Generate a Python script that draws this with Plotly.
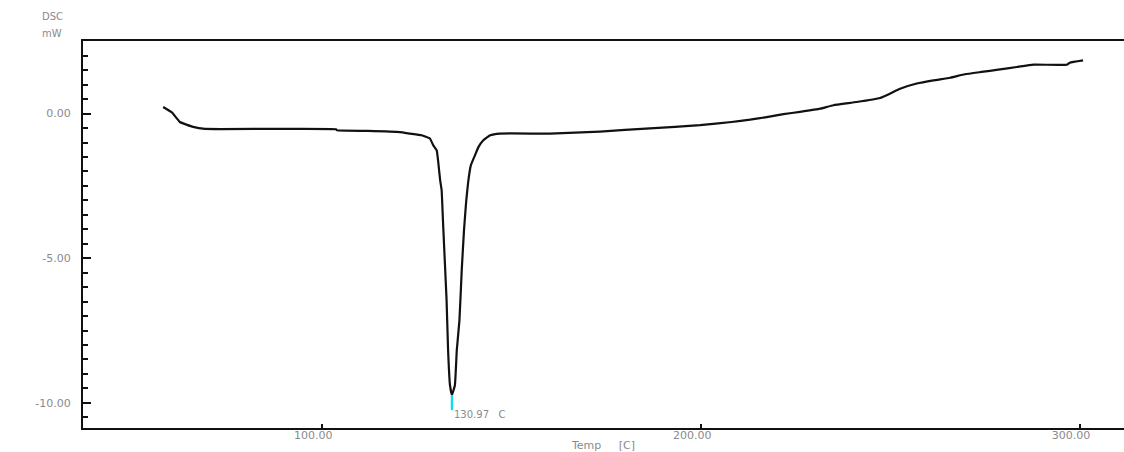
import plotly.graph_objects as go

# DSC curve (temperature in C, heat flow in mW)
temp_c = [58.0, 60.3, 62.4, 65.9, 69.0, 85.0, 103.6, 103.9, 112.0, 120.5, 123.1, 126.2,
          128.4, 129.3, 130.2, 130.6, 131.1, 131.5, 131.9, 132.8, 133.2, 133.7, 134.2,
          135.0, 135.5, 136.2, 136.8, 137.4, 138.0, 138.5, 139.2, 140.3, 141.2, 142.5,
          144.3, 146.9, 160.1, 173.3, 186.5, 199.7, 208.0, 212.9, 217.3, 221.7, 226.1,
          231.4, 234.9, 241.0, 247.2, 249.8, 252.5, 256.9, 261.3, 265.7, 269.6, 274.0,
          278.4, 283.3, 287.7, 296.5, 297.3, 300.8]
dsc_mw = [0.23, 0.04, -0.29, -0.46, -0.53, -0.53, -0.54, -0.58, -0.60, -0.64, -0.69, -0.75,
          -0.86, -1.10, -1.27, -1.67, -2.30, -2.65, -3.86, -6.45, -8.18, -9.39, -9.73,
          -9.39, -8.18, -7.14, -5.42, -4.03, -3.00, -2.37, -1.79, -1.44, -1.16, -0.92,
          -0.75, -0.69, -0.69, -0.62, -0.51, -0.40, -0.29, -0.21, -0.12, -0.02, 0.06,
          0.17, 0.29, 0.40, 0.54, 0.69, 0.86, 1.04, 1.15, 1.24, 1.36, 1.44,
          1.52, 1.61, 1.69, 1.69, 1.76, 1.84]

# Peak marker
peak_temp = [134.2, 134.2]
peak_mw = [-9.73, -10.25]
peak_label = "130.97   C"

x_ticks = [100, 200, 300]
x_tick_text = ["100.00", "200.00", "300.00"]
y_ticks = [0, -5, -10]
y_tick_text = ["0.00", "-5.00", "-10.00"]

gray = "#8a8a8a"
font_family = "DejaVu Sans, Liberation Sans, Arial, sans-serif"

fig = go.Figure()
fig.add_trace(go.Scatter(x=temp_c, y=dsc_mw, mode="lines",
                         line=dict(color="#111111", width=2.2, shape="spline", smoothing=0.3),
                         showlegend=False, hoverinfo="skip"))
fig.add_trace(go.Scatter(x=peak_temp, y=peak_mw, mode="lines",
                         line=dict(color="#00e0f0", width=2.2),
                         showlegend=False, hoverinfo="skip"))

fig.update_layout(
    width=1124, height=452,
    margin=dict(l=83, r=0, t=41, b=24),
    paper_bgcolor="white", plot_bgcolor="white",
    font=dict(family=font_family, color=gray, size=11),
    xaxis=dict(range=[36.84, 311.6], showgrid=False, zeroline=False, automargin=False,
               showline=True, linecolor="#111111", linewidth=2, mirror=True,
               ticks="inside", ticklen=4, tickwidth=2, tickcolor="#111111",
               tickvals=x_ticks, ticktext=x_tick_text,
               tickfont=dict(size=11, color=gray, family=font_family),
               ticklabelstandoff=-4, ticklabelshift=-9,
               title=dict(text="Temp     [C]", standoff=6,
                          font=dict(size=11, color=gray, family=font_family))),
    yaxis=dict(range=[-10.87, 2.51], showgrid=False, zeroline=False, automargin=False,
               showline=True, linecolor="#111111", linewidth=2,
               ticks="inside", ticklen=8, tickwidth=1.5, tickcolor="#111111",
               tickvals=y_ticks, ticktext=y_tick_text,
               tickfont=dict(size=11, color=gray, family=font_family),
               ticklabelstandoff=8,
               minor=dict(ticks="inside", ticklen=5, tickwidth=1.5, tickcolor="#111111",
                          dtick=0.5, tick0=0, showgrid=False)),
)

fig.add_annotation(x=peak_temp[0], y=-10.42, xref="x", yref="y", text=peak_label,
                   showarrow=False, xanchor="left", yanchor="middle",
                   font=dict(size=10, color=gray, family=font_family))
fig.add_annotation(x=-43 / 1041, y=1 + 24 / 387, xref="paper", yref="paper", text="DSC",
                   showarrow=False, xanchor="left", yanchor="middle",
                   font=dict(size=10, color=gray, family=font_family))
fig.add_annotation(x=-43 / 1041, y=1 + 8 / 387, xref="paper", yref="paper", text="mW",
                   showarrow=False, xanchor="left", yanchor="middle",
                   font=dict(size=10, color=gray, family=font_family))

post = ("document.body.style.margin='0';document.body.style.padding='0';"
        "document.body.style.overflow='hidden';"
        "document.documentElement.style.overflow='hidden';"
        "var gd=document.getElementById('{plot_id}');"
        "Plotly.relayout(gd,{width:1124,height:452});")

fig.write_html("out.html", config={"responsive": False, "displayModeBar": False},
               post_script=post)
